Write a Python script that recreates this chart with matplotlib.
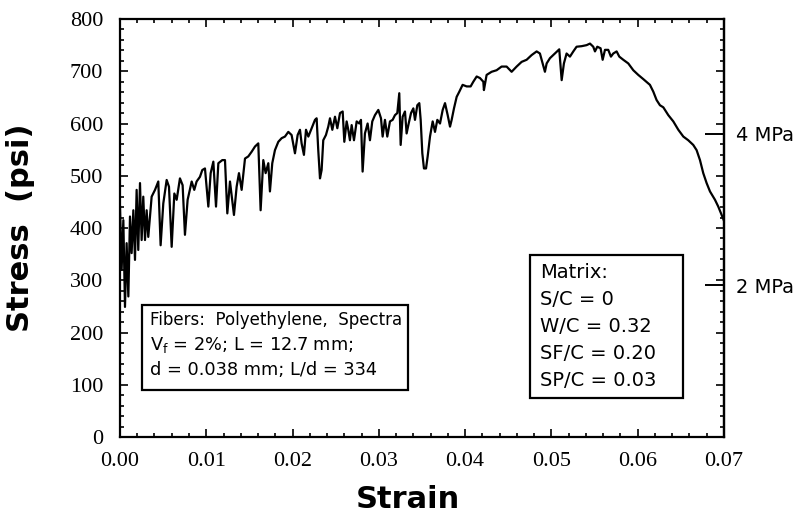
import matplotlib.pyplot as plt
from matplotlib.ticker import MultipleLocator, FormatStrFormatter, NullLocator
from matplotlib.patches import Rectangle

# strain / stress (psi)
strain = [0.00000, 0.00019, 0.00039, 0.00058, 0.00077, 0.00097, 0.00116, 0.00135, 0.00155, 0.00174,
          0.00193, 0.00212, 0.00232, 0.00251, 0.00270, 0.00290, 0.00309, 0.00328, 0.00348, 0.00367,
          0.00406, 0.00444, 0.00471, 0.00502, 0.00541, 0.00568, 0.00599, 0.00630, 0.00657, 0.00695,
          0.00726, 0.00753, 0.00784, 0.00831, 0.00861, 0.00888, 0.00927, 0.00954, 0.00985, 0.01024,
          0.01051, 0.01082, 0.01113, 0.01140, 0.01186, 0.01217, 0.01244, 0.01275, 0.01321, 0.01352,
          0.01379, 0.01410, 0.01449, 0.01487, 0.01526, 0.01565, 0.01603, 0.01630, 0.01661, 0.01688,
          0.01719, 0.01738, 0.01765, 0.01796, 0.01835, 0.01874, 0.01912, 0.01951, 0.01989, 0.02028,
          0.02059, 0.02086,
          0.02105, 0.02132, 0.02156, 0.02183, 0.02221, 0.02260, 0.02279, 0.02298, 0.02318, 0.02337,
          0.02356, 0.02387, 0.02414, 0.02434, 0.02461, 0.02492, 0.02519, 0.02550, 0.02581, 0.02600,
          0.02627, 0.02646, 0.02665, 0.02685, 0.02712, 0.02743, 0.02774, 0.02793, 0.02812, 0.02839,
          0.02870, 0.02897, 0.02924, 0.02955, 0.02994, 0.03025, 0.03044, 0.03071, 0.03098, 0.03129,
          0.03160, 0.03187, 0.03214, 0.03237, 0.03253, 0.03276, 0.03303, 0.03322, 0.03346, 0.03373,
          0.03400, 0.03419, 0.03446, 0.03469, 0.03485, 0.03504, 0.03523, 0.03547, 0.03566, 0.03593,
          0.03624, 0.03651, 0.03678, 0.03709, 0.03740, 0.03767, 0.03798, 0.03825, 0.03844, 0.03871,
          0.03902, 0.03933, 0.03971, 0.04018, 0.04064, 0.04095, 0.04134, 0.04172,
          0.04211, 0.04218, 0.04249, 0.04307, 0.04365, 0.04423, 0.04481, 0.04539, 0.04597, 0.04655,
          0.04713, 0.04771, 0.04829, 0.04867, 0.04898, 0.04925, 0.04945, 0.04983, 0.05041, 0.05091,
          0.05119, 0.05145, 0.05176, 0.05215, 0.05254, 0.05292, 0.05350, 0.05408, 0.05447, 0.05485,
          0.05505, 0.05532, 0.05570, 0.05594, 0.05621, 0.05659, 0.05690, 0.05717, 0.05756, 0.05787,
          0.05833, 0.05891, 0.05949, 0.06007, 0.06065, 0.06142, 0.06181, 0.06219, 0.06258, 0.06297,
          0.06355, 0.06413, 0.06471, 0.06529, 0.06586, 0.06644, 0.06683,
          0.06722, 0.06760, 0.06799, 0.06838, 0.06896, 0.06934, 0.06973, 0.07000]
stress = [441, 320, 415, 249, 371, 269, 422, 352, 434, 339,
          473, 358, 486, 377, 460, 377, 434, 383, 422, 460,
          473, 489, 367, 447, 492, 479, 364, 466, 454, 495,
          482, 387, 454, 489, 473, 489, 498, 511, 514, 441,
          505, 527, 441, 524, 530, 530, 428, 489, 425, 479,
          505, 473, 533, 537, 546, 556, 562, 434, 530, 505,
          524, 470, 524, 549, 565, 572, 575, 584, 578, 543,
          578, 588,
          562, 540, 588, 575, 591, 607, 610, 549, 495, 511,
          568, 578, 594, 610, 588, 613, 591, 620, 623, 565,
          604, 588, 568, 597, 568, 604, 600, 607, 508, 581,
          600, 568, 604, 616, 626, 610, 575, 607, 575, 604,
          607, 616, 620, 658, 559, 613, 623, 581, 600, 620,
          629, 607, 635, 639, 607, 543, 514, 514, 537, 575,
          604, 584, 607, 600, 626, 639, 616, 594, 607, 629,
          651, 661, 674, 671, 671, 680, 690, 687,
          680, 664, 693, 699, 702, 709, 709, 699, 709, 718,
          722, 731, 738, 734, 715, 699, 715, 725, 734, 742,
          683, 715, 734, 728, 738, 747, 748, 750, 753, 747,
          738, 747, 744, 722, 741, 741, 728, 734, 738, 728,
          722, 715, 702, 693, 685, 674, 661, 645, 635, 631,
          616, 604, 588, 575, 568, 559, 549,
          530, 505, 486, 470, 454, 441, 425, 414]

psi_per_mpa = 145.04
mpa_ticks = [2, 4]
mpa_labels = ["2 MPa", "4 MPa"]

fiber_lines = ["Fibers:  Polyethylene,  Spectra",
               r"V$_\mathregular{f}$ = 2%; L = 12.7 mm;",
               "d = 0.038 mm; L/d = 334"]
fiber_sizes = [12, 12.8, 12.8]
matrix_lines = ["Matrix:", "S/C = 0", "W/C = 0.32", "SF/C = 0.20", "SP/C = 0.03"]

fig = plt.figure(figsize=(8.02, 5.21), dpi=100)
ax = fig.add_axes([0.1496, 0.1612, 0.7531, 0.8023])

ax.plot(strain, stress, color='black', lw=1.6)

ax.set_xlim(0, 0.07)
ax.set_ylim(0, 800)
ax.xaxis.set_major_locator(MultipleLocator(0.01))
ax.xaxis.set_minor_locator(MultipleLocator(0.002))
ax.yaxis.set_major_locator(MultipleLocator(100))
ax.yaxis.set_minor_locator(MultipleLocator(20))
ax.xaxis.set_major_formatter(FormatStrFormatter('%.2f'))

for s in ax.spines.values():
    s.set_linewidth(1.6)
ax.tick_params(which='both', direction='in', top=True, right=True, width=1.2)
ax.tick_params(which='major', length=6)
ax.tick_params(which='minor', length=3)
ax.tick_params(axis='y', pad=12)
ax.tick_params(axis='x', pad=11)
for lab in ax.get_xticklabels() + ax.get_yticklabels():
    lab.set_fontfamily('Liberation Serif')
    lab.set_fontsize(16)

ax.set_xlabel("Strain", fontsize=22, fontweight='bold', family='DejaVu Sans')
ax.set_ylabel("Stress  (psi)", fontsize=22, fontweight='bold', family='DejaVu Sans')
ax.xaxis.set_label_coords(0.477, -0.115)
ax.yaxis.set_label_coords(-0.14, 0.5)

sec = ax.secondary_yaxis('right', functions=(lambda p: p / psi_per_mpa, lambda m: m * psi_per_mpa))
sec.set_yticks(mpa_ticks)
sec.set_yticklabels(mpa_labels)
sec.yaxis.set_minor_locator(NullLocator())
sec.tick_params(direction='in', length=14, width=1.4, pad=9, labelsize=14)
sec.spines['right'].set_linewidth(1.6)

# fibers box
ax.add_patch(Rectangle((0.0364, 0.1124), 0.4406, 0.2036, transform=ax.transAxes,
                       fill=False, ec='black', lw=1.6))
for txt, yb, fs in zip(fiber_lines, [0.268, 0.208, 0.148], fiber_sizes):
    ax.text(0.050, yb, txt, transform=ax.transAxes, fontsize=fs, va='baseline', ha='left')

# matrix box
ax.add_patch(Rectangle((0.679, 0.0933), 0.253, 0.3417, transform=ax.transAxes,
                       fill=False, ec='black', lw=1.6))
for txt, yb in zip(matrix_lines, [0.380, 0.315, 0.251, 0.186, 0.122]):
    ax.text(0.695, yb, txt, transform=ax.transAxes, fontsize=14, va='baseline', ha='left')

fig.savefig("out.png", dpi=100)
